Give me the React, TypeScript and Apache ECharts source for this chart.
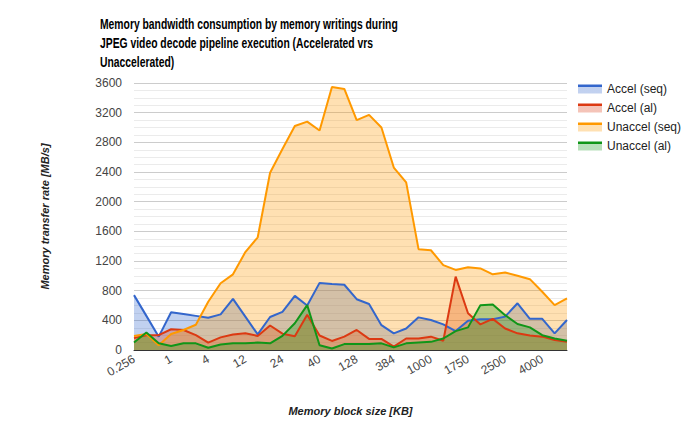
import React, { useEffect, useRef } from "react";
import * as echarts from "echarts";

const categories = [
  "0.256", "0.512", "0.768", "1", "2", "3", "4", "6", "8", "12", "16", "20",
  "24", "28", "32", "40", "64", "96", "128", "192", "256", "384", "512", "768",
  "1000", "1250", "1500", "1750", "2000", "2250", "2500", "3000", "3500", "4000", "4500", "5000",
];

const accelSeq = [
  740, 460, 180, 510, 485, 460, 435, 480, 690, 450, 210, 445,
  515, 730, 600, 905, 890, 880, 685, 620, 335, 225, 290, 440,
  405, 345, 255, 395, 415, 415, 450, 630, 420, 420, 225, 405,
];

const accelAl = [
  160, 200, 200, 280, 270, 200, 100, 170, 210, 225, 190, 330,
  220, 185, 475, 195, 122, 180, 270, 150, 150, 45, 155, 155,
  180, 125, 990, 495, 345, 420, 290, 225, 195, 180, 135, 110,
];

const unaccelSeq = [
  190, 215, 65, 215, 270, 340, 650, 900, 1020, 1320, 1520, 2390,
  2710, 3020, 3080, 2960, 3545, 3520, 3100, 3170, 3000, 2460, 2260, 1360,
  1345, 1145, 1080, 1115, 1100, 1020, 1045, 1000, 955, 785, 605, 695,
];

const unaccelAl = [
  100, 235, 90, 55, 90, 90, 30, 75, 90, 90, 100, 90,
  190, 360, 605, 65, 20, 80, 80, 80, 90, 35, 90, 100,
  110, 155, 255, 305, 605, 615, 470, 350, 305, 200, 155, 125,
];

const seriesNames = ["Accel (seq)", "Accel (al)", "Unaccel (seq)", "Unaccel (al)"];
const seriesColors = ["#3366cc", "#dc3912", "#ff9900", "#109618"];
const seriesData = [accelSeq, accelAl, unaccelSeq, unaccelAl];

const titleText =
  "Memory bandwidth consumption by memory writings during\nJPEG video decode pipeline execution (Accelerated vrs\nUnaccelerated)";

const FONT = "'Liberation Sans', Arial, sans-serif";

function hexToRgba(hex: string, a: number) {
  const n = parseInt(hex.slice(1), 16);
  return `rgba(${(n >> 16) & 255},${(n >> 8) & 255},${n & 255},${a})`;
}

export default function App() {
  const ref = useRef<HTMLDivElement>(null);
  useEffect(() => {
    if (!ref.current) return;
    const chart = echarts.init(ref.current, undefined, { renderer: "svg" });

    const areaSeries = seriesNames.map((name, i) => ({
      name,
      type: "line",
      data: seriesData[i],
      symbol: "none",
      color: seriesColors[i],
      lineStyle: { width: 0, opacity: 0 },
      areaStyle: { color: seriesColors[i], opacity: 0.3 },
      z: 2,
      silent: true,
    }));
    const lineSeries = seriesNames.map((name, i) => ({
      name,
      type: "line",
      data: seriesData[i],
      symbol: "none",
      color: seriesColors[i],
      lineStyle: { width: 2, color: seriesColors[i] },
      z: 3,
    }));

    chart.setOption({
      animation: false,
      backgroundColor: "#ffffff",
      graphic: [
        {
          type: "text",
          x: 100,
          y: 15,
          scaleX: 0.74,
          style: {
            text: titleText,
            fontFamily: FONT,
            fontSize: 14,
            fontWeight: "bold",
            fill: "#000000",
            lineHeight: 19,
            textAlign: "left",
            textVerticalAlign: "top",
          },
        },
      ],
      legend: {
        orient: "vertical",
        left: 578,
        top: 83,
        itemWidth: 24,
        itemHeight: 9,
        itemGap: 7,
        padding: 0,
        textStyle: { fontFamily: FONT, fontSize: 12, color: "#222222" },
        data: seriesNames.map((name, i) => ({
          name,
          icon: "rect",
          itemStyle: {
            color: new echarts.graphic.LinearGradient(0, 0, 0, 1, [
              { offset: 0, color: seriesColors[i] },
              { offset: 0.3, color: seriesColors[i] },
              { offset: 0.3, color: hexToRgba(seriesColors[i], 0.3) },
              { offset: 1, color: hexToRgba(seriesColors[i], 0.3) },
            ]),
          },
        })),
      },
      grid: { left: 134, right: 133, top: 83, bottom: 83 },
      xAxis: {
        type: "category",
        data: categories,
        boundaryGap: false,
        name: "Memory block size [KB]",
        nameLocation: "middle",
        nameGap: 55,
        nameTextStyle: {
          fontFamily: FONT,
          fontSize: 11,
          fontWeight: "bold",
          fontStyle: "italic",
          color: "#222222",
        },
        axisLine: { show: true, lineStyle: { color: "#333333", width: 1 } },
        axisTick: { show: false },
        axisLabel: {
          interval: 2,
          rotate: 30,
          fontFamily: FONT,
          fontSize: 12,
          color: "#444444",
          margin: 8,
        },
        splitLine: { show: false },
      },
      yAxis: {
        type: "value",
        min: 0,
        max: 3600,
        interval: 400,
        name: "Memory transfer rate [MB/s]",
        nameLocation: "middle",
        nameGap: 84,
        nameTextStyle: {
          fontFamily: FONT,
          fontSize: 11,
          fontWeight: "bold",
          fontStyle: "italic",
          color: "#222222",
        },
        axisLine: { show: false },
        axisTick: { show: false },
        axisLabel: {
          fontFamily: FONT,
          fontSize: 12,
          color: "#444444",
          margin: 12,
          formatter: (v: number) => String(v),
        },
        splitLine: { show: true, lineStyle: { color: "#cccccc", width: 1 } },
        minorTick: { show: false, splitNumber: 4 },
        minorSplitLine: { show: true, lineStyle: { color: "#ebebeb", width: 1 } },
      },
      series: [...areaSeries, ...lineSeries],
    });
    return () => chart.dispose();
  }, []);
  return <div ref={ref} style={{ width: 700, height: 433, position: "absolute", left: 0, top: 0 }} />;
}
